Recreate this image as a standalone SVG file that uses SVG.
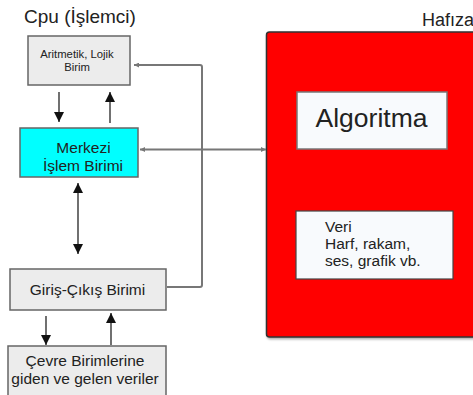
<svg xmlns="http://www.w3.org/2000/svg" width="473" height="395" viewBox="0 0 473 395">
  <defs>
    <marker id="head" viewBox="0 0 10 10" refX="10" refY="5" markerWidth="10" markerHeight="10" markerUnits="userSpaceOnUse" orient="auto-start-reverse">
      <path d="M0,0 L10,5 L0,10 z" fill="#111"/>
    </marker>
    <marker id="tip" viewBox="0 0 6 6" refX="6" refY="3" markerWidth="5" markerHeight="5" markerUnits="userSpaceOnUse" orient="auto-start-reverse">
      <path d="M0,0 L6,3 L0,6 z" fill="#777"/>
    </marker>
    <filter id="shadow" x="-5%" y="-5%" width="110%" height="110%">
      <feDropShadow dx="1" dy="1.5" stdDeviation="1" flood-color="#000" flood-opacity="0.35"/>
    </filter>
  </defs>
  <style>
    text { font-family: "Liberation Sans", Arial, sans-serif; fill: #222; }
    .gray { fill: #ececec; stroke: #666; stroke-width: 1.5; }
    .flow { stroke: #111; stroke-width: 1.2; fill: none; marker-end: url(#head); }
    .bus { stroke: #777; stroke-width: 2; fill: none; }
    .mid { text-anchor: middle; }
  </style>

  <rect width="473" height="395" fill="#fff"/>

  <text x="24" y="23" font-size="19">Cpu (İşlemci)</text>
  <text x="474" y="26" font-size="18" text-anchor="end">Hafıza</text>

  <!-- memory block -->
  <g id="hafiza">
    <rect x="266.5" y="32" width="215" height="305" rx="3" fill="#ff0000" stroke="#333" stroke-width="1.5" filter="url(#shadow)"/>
  </g>
  <g id="algoritma">
    <rect x="297" y="92" width="150" height="57" fill="#f8fafd" stroke="#777" stroke-width="1.5"/>
    <text class="mid" x="371.5" y="127" font-size="26.5">Algoritma</text>
  </g>
  <g id="veri">
    <rect x="296" y="211" width="157" height="68" fill="#f8fafd" stroke="#444" stroke-width="1.2"/>
    <text x="325" y="232" font-size="15.5">Veri</text>
    <text x="325" y="249" font-size="15.5">Harf, rakam,</text>
    <text x="325" y="266" font-size="15.5">ses, grafik vb.</text>
  </g>

  <!-- CPU units -->
  <g id="alu">
    <rect class="gray" x="28" y="36" width="102" height="49"/>
    <text class="mid" x="77" y="57.5" font-size="11.3">Aritmetik, Lojik</text>
    <text class="mid" x="77" y="70.5" font-size="11.3">Birim</text>
  </g>
  <g id="merkezi">
    <rect x="20" y="128" width="118" height="49" fill="#00ffff" stroke="#666" stroke-width="1.5"/>
    <text class="mid" x="83.5" y="153" font-size="15.5">Merkezi</text>
    <text class="mid" x="83" y="170.5" font-size="15.5">İşlem Birimi</text>
  </g>
  <g id="giris-cikis">
    <rect class="gray" x="10" y="269" width="156" height="41"/>
    <text class="mid" x="87.5" y="294.5" font-size="15.5">Giriş-Çıkış Birimi</text>
  </g>
  <g id="cevre">
    <rect class="gray" x="8" y="346" width="158" height="52"/>
    <text class="mid" x="85" y="366" font-size="15.5">Çevre Birimlerine</text>
    <text class="mid" x="85" y="383.5" font-size="15.5">giden ve gelen veriler</text>
  </g>

  <!-- connectors -->
  <g id="connectors">
    <line class="flow" x1="59" y1="92" x2="59" y2="122"/>
    <line class="flow" x1="110" y1="123" x2="110" y2="92"/>
    <line class="flow" x1="78" y1="183" x2="78" y2="254" marker-start="url(#head)"/>
    <line class="flow" x1="46" y1="316" x2="46" y2="345"/>
    <line class="flow" x1="111" y1="345" x2="111" y2="313"/>

    <path class="bus" d="M167,287 L200,287 Q202,287 202,285 L202,67 Q202,65 200,65 L134,65" marker-end="url(#tip)"/>
    <line class="bus" x1="140" y1="149.5" x2="266" y2="149.5" marker-start="url(#tip)" marker-end="url(#tip)"/>
  </g>
</svg>
